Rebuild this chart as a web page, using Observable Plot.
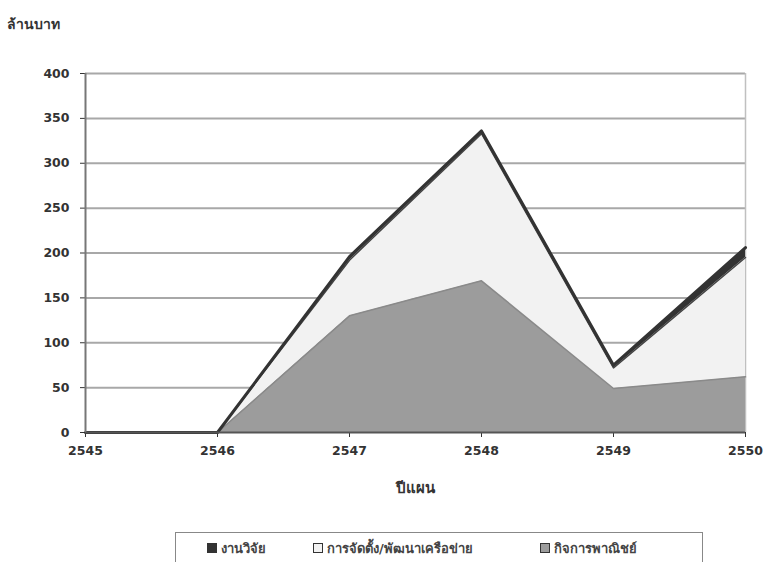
<!DOCTYPE html>
<html>
<head>
<meta charset="utf-8">
<script src="https://cdn.jsdelivr.net/npm/d3@7"></script>
<script src="https://cdn.jsdelivr.net/npm/@observablehq/plot@0.6"></script>
<style>
  body { margin: 0; background: #fff; font-family: "DejaVu Sans", "Noto Sans", sans-serif; }
  #wrap { position: relative; width: 769px; height: 562px; overflow: hidden; }
  #ytitle { position: absolute; left: 7px; top: 13px; font-size: 14px; font-weight: bold; color: #333; }
  #chart { position: absolute; left: 0; top: 0; }
  #legend { position: absolute; left: 175px; top: 532px; width: 528px; height: 40px; border: 1.5px solid #888; box-sizing: border-box;
            font-size: 13px; font-weight: bold; color: #444; }
  #legend span.item { position: absolute; top: 5px; white-space: nowrap; }
  .sw { display: inline-block; width: 8px; height: 8px; border: 1px solid #333; margin-right: 4px; vertical-align: 0px; }
</style>
</head>
<body>
<div id="wrap">
  <div id="chart"></div>
  <div id="ytitle">ล้านบาท</div>
  <div id="legend"></div>
</div>
<script>
const years = [2545, 2546, 2547, 2548, 2549, 2550];
const seriesNames = ["กิจการพาณิชย์", "การจัดตั้ง/พัฒนาเครือข่าย", "งานวิจัย"];
const commercial = [0, 0, 130, 169, 49, 62];
const network = [0, 0, 62, 164, 23, 133];
const research = [0, 0, 4, 3, 3, 11];
const yTicks = [0, 50, 100, 150, 200, 250, 300, 350, 400];
const fills = ["#9c9c9c", "#f2f2f2", "#333333"];

// Build a stacked table from the arrays (bottom to top)
const valuesBySeries = [commercial, network, research];
const data = [];
years.forEach((yr, j) => {
  let base = 0;
  seriesNames.forEach((s, i) => {
    const v = valuesBySeries[i][j];
    data.push({ year: yr, series: s, y1: base, y2: base + v });
    base += v;
  });
});
const bySeries = s => data.filter(d => d.series === s);

const chart = Plot.plot({
  width: 769,
  height: 515,
  marginTop: 73,
  marginLeft: 85,
  marginRight: 24,
  marginBottom: 83,
  style: { fontFamily: "'DejaVu Sans', 'Noto Sans', sans-serif", fontSize: "12.5px", fontWeight: "bold", color: "#333" },
  x: { domain: [2545, 2550], ticks: years, tickFormat: d => String(d), tickSize: 5, tickPadding: 9, label: "ปีแผน", labelAnchor: "center", labelOffset: 60, labelArrow: "none" },
  y: { domain: [0, 400], ticks: yTicks, tickSize: 5, tickPadding: 11, label: null },
  color: { domain: seriesNames, range: fills },
  marks: [
    Plot.ruleY(yTicks.filter(d => d > 0), { stroke: "#a8a8a8", strokeWidth: 2 }),
    Plot.ruleX([2550], { stroke: "#c0c0c0", strokeWidth: 1.5 }),
    Plot.areaY(data, { x: "year", y1: "y1", y2: "y2", z: "series", fill: "series" }),
    Plot.lineY(bySeries(seriesNames[0]), { x: "year", y: "y2", stroke: "#8a8a8a", strokeWidth: 1.5 }),
    Plot.lineY(bySeries(seriesNames[2]), { x: "year", y: "y1", stroke: "#444", strokeWidth: 1.5 }),
    Plot.lineY(bySeries(seriesNames[2]), { x: "year", y: "y2", stroke: "#333", strokeWidth: 3 }),
    Plot.ruleY([0], { stroke: "#555", strokeWidth: 2 }),
    Plot.ruleX([2545], { stroke: "#777", strokeWidth: 2 })
  ]
});
document.getElementById("chart").appendChild(chart);
chart.querySelectorAll("g[aria-label='x-axis label'] text").forEach(t => t.style.fontSize = "15px");

const legend = document.getElementById("legend");
const legendOrder = [2, 1, 0];
const lefts = [31, 137, 364];
legendOrder.forEach((idx, k) => {
  const span = document.createElement("span");
  span.className = "item";
  span.style.left = lefts[k] + "px";
  const sw = document.createElement("span");
  sw.className = "sw";
  sw.style.background = fills[idx];
  span.appendChild(sw);
  span.appendChild(document.createTextNode(seriesNames[idx]));
  legend.appendChild(span);
});
</script>
</body>
</html>
